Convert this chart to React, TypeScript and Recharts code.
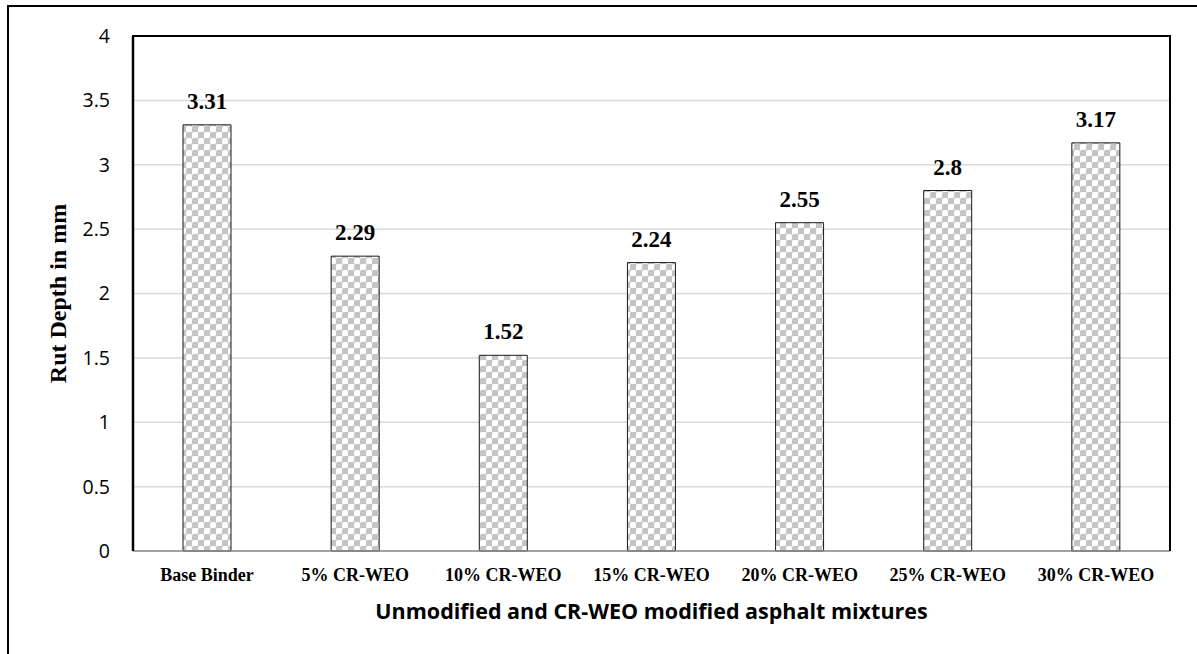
import React from 'react';
import { BarChart, Bar, XAxis, YAxis, CartesianGrid, LabelList } from 'recharts';

// Rut depth per mixture
const categories = [
  'Base Binder',
  '5% CR-WEO',
  '10% CR-WEO',
  '15% CR-WEO',
  '20% CR-WEO',
  '25% CR-WEO',
  '30% CR-WEO',
];
const rutDepth = [3.31, 2.29, 1.52, 2.24, 2.55, 2.8, 3.17];
const yTicks = [0, 0.5, 1, 1.5, 2, 2.5, 3, 3.5, 4];

const data = categories.map((name, i) => ({ name, value: rutDepth[i] }));

const SERIF = '"Liberation Serif", "Times New Roman", serif';
const SANS = '"Open Sans", "Noto Sans", sans-serif';

const CHART_W = 1197;
const CHART_H = 654;
const MARGIN = { top: 36, right: 27, left: 0, bottom: 0 };
const Y_AXIS_W = 133;
const X_AXIS_H = 103;

export default function App() {
  const plotLeft = MARGIN.left + Y_AXIS_W;
  const plotTop = MARGIN.top;
  const plotW = CHART_W - plotLeft - MARGIN.right;
  const plotH = CHART_H - plotTop - X_AXIS_H - MARGIN.bottom;
  return (
    <div style={{ position: 'absolute', left: 0, top: 0, width: CHART_W, height: CHART_H, background: '#fff' }}>
      {/* outer frame */}
      <div
        style={{
          position: 'absolute',
          left: 7,
          top: 5,
          width: 1190,
          height: 649,
          borderLeft: '2px solid #000',
          borderTop: '2px solid #000',
          boxSizing: 'border-box',
        }}
      />
      <div style={{ position: 'absolute', left: 0, top: 0 }}>
        <BarChart width={CHART_W} height={CHART_H} data={data} margin={MARGIN} barSize={48}>
          <defs>
            <pattern id="checker" width="12" height="12" patternUnits="userSpaceOnUse">
              <rect x="0" y="0" width="12" height="12" fill="#c4c4c4" />
              <rect x="0" y="0" width="6" height="6" rx="1.5" fill="#ffffff" />
              <rect x="6" y="6" width="6" height="6" rx="1.5" fill="#ffffff" />
              <circle cx="6" cy="0" r="1" fill="#ffffff" />
              <circle cx="0" cy="6" r="1" fill="#ffffff" />
            </pattern>
          </defs>
          <CartesianGrid vertical={false} stroke="#d9d9d9" strokeWidth={1.5} />
          <XAxis
            dataKey="name"
            tickLine={false}
            tickSize={0}
            tickMargin={17}
            height={X_AXIS_H}
            axisLine={{ stroke: '#8c8c8c', strokeWidth: 1.5 }}
            tick={{ fill: '#000', fontFamily: SERIF, fontWeight: 'bold', fontSize: 18 }}
            interval={0}
            label={{
              value: 'Unmodified and CR-WEO modified asphalt mixtures',
              position: 'insideBottom',
              offset: 35,
              style: { fill: '#000', fontFamily: SANS, fontWeight: 'bold', fontSize: 21.5 },
            }}
          />
          <YAxis
            width={Y_AXIS_W}
            domain={[0, 4]}
            ticks={yTicks}
            interval={0}
            tickLine={false}
            tickSize={0}
            tickMargin={23}
            axisLine={{ stroke: '#000', strokeWidth: 2.5 }}
            tick={{ fill: '#000', fontFamily: SANS, fontSize: 19.5 }}
            label={{
              value: 'Rut Depth in mm',
              angle: -90,
              position: 'insideLeft',
              offset: 57,
              style: { textAnchor: 'middle', fill: '#000', fontFamily: SERIF, fontWeight: 'bold', fontSize: 24 },
            }}
          />
          <Bar
            dataKey="value"
            fill="url(#checker)"
            stroke="#1a1a1a"
            strokeWidth={1}
            isAnimationActive={false}
          >
            <LabelList
              dataKey="value"
              position="top"
              offset={16}
              style={{ fill: '#000', fontFamily: SERIF, fontWeight: 'bold', fontSize: 23 }}
            />
          </Bar>
        </BarChart>
      </div>
      {/* plot-area frame: left, top and right edges */}
      <div
        style={{
          position: 'absolute',
          left: plotLeft - 1.25,
          top: plotTop - 1.25,
          width: plotW + 2.5,
          height: plotH + 1.25,
          borderLeft: '2.5px solid #000',
          borderTop: '2.5px solid #000',
          borderRight: '2.5px solid #000',
          boxSizing: 'border-box',
          pointerEvents: 'none',
        }}
      />
    </div>
  );
}
